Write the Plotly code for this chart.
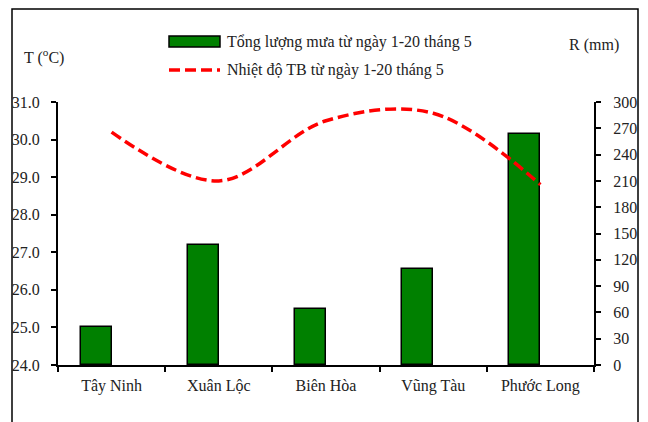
import plotly.graph_objects as go

stations = ["Tây Ninh", "Xuân Lộc", "Biên Hòa", "Vũng Tàu", "Phước Long"]
rain_mm = [43, 137, 64, 109, 263]
temp_c = [30.2, 28.9, 30.5, 30.7, 28.8]

rain_name = "Tổng lượng mưa từ ngày 1-20 tháng 5"
temp_name = "Nhiệt độ TB từ ngày 1-20 tháng 5"

FONT = "'Liberation Serif', 'Times New Roman', 'DejaVu Serif', serif"
TXT = "#222222"
FS = 16
DASH = "11px,5px"

fig = go.Figure()

# rainfall bars sit in the left half of each category slot (right-hand axis)
fig.add_trace(go.Bar(
    x=stations, y=rain_mm, yaxis="y", name=rain_name,
    width=0.29, offset=-0.29,
    marker=dict(color="#008000", line=dict(color="#000000", width=1.5)),
    showlegend=False,
))

# mean temperature, smoothed dashed line drawn above the bars (left-hand axis)
fig.add_trace(go.Scatter(
    x=stations, y=temp_c, yaxis="y2", name=temp_name, mode="lines",
    line=dict(color="#ff0000", width=3.5, dash=DASH, shape="spline", smoothing=1.0),
    showlegend=False,
))

axis_common = dict(
    showgrid=False, zeroline=False, showline=True, linecolor="#000000", linewidth=2,
    ticks="outside", ticklen=5, tickwidth=1.5, tickcolor="#000000",
    tickfont=dict(family=FONT, size=FS, color=TXT),
)

fig.update_layout(
    width=648, height=422,
    margin=dict(l=58, r=54, t=102, b=57),
    paper_bgcolor="white", plot_bgcolor="white",
    font=dict(family=FONT, size=FS, color=TXT),
    bargap=0,
    xaxis=dict(
        type="category", tickson="boundaries", range=[-0.5, 4.5],
        showgrid=False, zeroline=False, showline=True, linecolor="#000000", linewidth=2,
        ticks="outside", ticklen=5, tickwidth=1.5, tickcolor="#000000",
        tickfont=dict(family=FONT, size=FS, color=TXT), ticklabelstandoff=5,
    ),
    yaxis=dict(range=[0, 300], dtick=30, side="right", ticklabelstandoff=9, **axis_common),
    yaxis2=dict(range=[24, 31], dtick=1, tickformat=".1f", overlaying="y", side="left",
                ticklabelstandoff=8, **axis_common),
)

PW, PH = 536.0, 263.0


def px_x(v):
    return (v - 58) / PW


def px_y(v):
    return (365 - v) / PH


shapes = [
    # outer frame
    dict(type="rect", xref="paper", yref="paper",
         x0=px_x(12), x1=px_x(638), y0=px_y(460), y1=px_y(9),
         line=dict(color="#000000", width=1.5), fillcolor="rgba(0,0,0,0)", layer="below"),
    # legend swatches
    dict(type="rect", xref="paper", yref="paper",
         x0=px_x(169), x1=px_x(220), y0=px_y(47), y1=px_y(36),
         line=dict(color="#000000", width=1.5), fillcolor="#008000"),
    dict(type="line", xref="paper", yref="paper",
         x0=px_x(169), x1=px_x(220), y0=px_y(70), y1=px_y(70),
         line=dict(color="#ff0000", width=3.5, dash=DASH)),
]

annotations = [
    dict(text=rain_name, x=px_x(225), y=px_y(42), xanchor="left", yanchor="middle"),
    dict(text=temp_name, x=px_x(225), y=px_y(70), xanchor="left", yanchor="middle"),
    dict(text="T (<sup>o</sup>C)", x=px_x(22), y=px_y(57), xanchor="left", yanchor="middle"),
    dict(text="R (mm)", x=px_x(621), y=px_y(45), xanchor="right", yanchor="middle"),
]
for a in annotations:
    a.update(xref="paper", yref="paper", showarrow=False,
             font=dict(family=FONT, size=FS, color=TXT))

fig.update_layout(shapes=shapes, annotations=annotations)

fig.write_html("out.html")
